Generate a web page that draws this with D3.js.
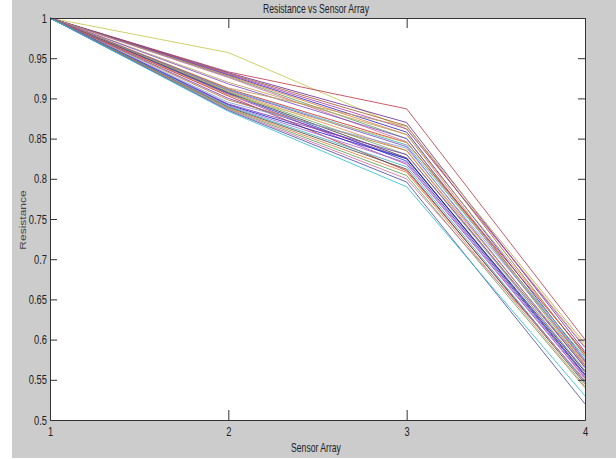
<!DOCTYPE html>
<html>
<head>
<meta charset="utf-8">
<script src="https://cdn.jsdelivr.net/npm/d3@7"></script>
<style>
  body { margin: 0; background: #fff; }
  text { font-family: "Liberation Sans", Arial, sans-serif; }
</style>
</head>
<body>
<script>

// sensor positions on the x axis
var sensors = [1, 2, 3, 4];

// resistance at each sensor, one entry per trace (sensor 1 is always 1)
var atSensor2 = [0.957, 0.933, 0.932, 0.931, 0.930, 0.929, 0.928, 0.927, 0.926, 0.920,
                 0.918, 0.913, 0.912, 0.911, 0.910, 0.909, 0.908, 0.907, 0.906, 0.905,
                 0.904, 0.903, 0.900, 0.898, 0.895, 0.893, 0.892, 0.891, 0.890, 0.889,
                 0.888, 0.887, 0.886, 0.885, 0.884];
var atSensor3 = [0.862, 0.887, 0.870, 0.866, 0.862, 0.858, 0.855, 0.850, 0.846, 0.855,
                 0.850, 0.865, 0.845, 0.842, 0.840, 0.835, 0.830, 0.826, 0.822, 0.818,
                 0.845, 0.810, 0.825, 0.835, 0.838, 0.830, 0.825, 0.820, 0.815, 0.812,
                 0.808, 0.804, 0.800, 0.796, 0.790];
var atSensor4 = [0.592, 0.600, 0.585, 0.580, 0.590, 0.575, 0.570, 0.568, 0.572, 0.582,
                 0.573, 0.595, 0.583, 0.578, 0.565, 0.560, 0.562, 0.557, 0.555, 0.552,
                 0.575, 0.548, 0.556, 0.568, 0.575, 0.566, 0.560, 0.553, 0.547, 0.545,
                 0.542, 0.540, 0.550, 0.520, 0.530];

var traceColors = ["#c8c850", "#c04050", "#7030a0", "#a06030", "#b040b0", "#3030c0", "#e08040",
                   "#60a060", "#d070a0", "#c0a060", "#8050c0", "#c0a060", "#d03030", "#40b0c0",
                   "#8050c0", "#e09050", "#70b070", "#404040", "#3040c0", "#b040b0", "#d0c060",
                   "#d03030", "#7040b0", "#c08040", "#80a0e0", "#8040b0", "#2020d0", "#a070d0",
                   "#40b0c0", "#505050", "#e08040", "#60a060", "#d070a0", "#5050b0", "#30c0d0"];

var yTicks = [0.5, 0.55, 0.6, 0.65, 0.7, 0.75, 0.8, 0.85, 0.9, 0.95, 1];

var margin = {top: 18, right: 31, bottom: 39, left: 50},
    width = 616 - margin.left - margin.right,
    height = 459 - margin.top - margin.bottom;

var x = d3.scaleLinear().domain([1, 4]).range([0, width]);
var y = d3.scaleLinear().domain([0.5, 1]).range([height, 0]);

var root = d3.select("body").append("svg")
    .attr("width", 616)
    .attr("height", 459);

// grey figure background
root.append("rect")
    .attr("x", 12).attr("y", 0)
    .attr("width", 604).attr("height", 458)
    .attr("fill", "#cccccc");

var svg = root.append("g")
    .attr("transform", "translate(" + margin.left + "," + margin.top + ")");

svg.append("rect")
    .attr("width", width).attr("height", height)
    .attr("fill", "#fff");

var traces = atSensor2.map(function(v, i) {
  return [1, v, atSensor3[i], atSensor4[i]];
});

var line = d3.line()
    .x(function(d, i) { return x(sensors[i]); })
    .y(function(d) { return y(d); });

svg.selectAll(".trace")
    .data(traces)
  .enter().append("path")
    .attr("class", "trace")
    .attr("d", line)
    .attr("fill", "none")
    .attr("stroke", function(d, i) { return traceColors[i % traceColors.length]; })
    .attr("stroke-opacity", 0.85)
    .attr("stroke-width", 1);

var fmt = function(d) { return String(+d.toFixed(2)); };

var xAxis = svg.append("g")
    .attr("transform", "translate(0," + height + ")")
    .call(d3.axisBottom(x).tickValues(sensors).tickFormat(d3.format("d"))
      .tickSizeInner(-10).tickSizeOuter(0).tickPadding(7));

var yAxis = svg.append("g")
    .call(d3.axisLeft(y).tickValues(yTicks).tickFormat(fmt)
      .tickSizeInner(-7).tickSizeOuter(0).tickPadding(3));

svg.append("g")
    .call(d3.axisTop(x).tickValues(sensors).tickFormat("")
      .tickSizeInner(-10).tickSizeOuter(0));

svg.append("g")
    .attr("transform", "translate(" + width + ",0)")
    .call(d3.axisRight(y).tickValues(yTicks).tickFormat("")
      .tickSizeInner(-7).tickSizeOuter(0));

svg.selectAll(".domain, .tick line").attr("stroke", "#333");

svg.selectAll(".tick text")
    .attr("font-size", "13px")
    .attr("font-family", "Liberation Sans, Arial, sans-serif")
    .attr("fill", "#222")
    .attr("transform", "scale(0.72,1)");

// y labels: keep the right edge near the axis after squeezing
yAxis.selectAll(".tick text").attr("x", -3 / 0.72);

root.append("text")
    .attr("transform", "translate(316,13) scale(0.72,1)")
    .style("text-anchor", "middle")
    .attr("font-size", "12px")
    .attr("fill", "#222")
    .text("Resistance vs Sensor Array");

root.append("text")
    .attr("transform", "translate(316,452) scale(0.72,1)")
    .style("text-anchor", "middle")
    .attr("font-size", "12px")
    .attr("fill", "#222")
    .text("Sensor Array");

root.append("text")
    .attr("transform", "translate(26,220) scale(0.75,1) rotate(-90)")
    .style("text-anchor", "middle")
    .attr("font-size", "12px")
    .attr("fill", "#444")
    .text("Resistance");

</script>
</body>
</html>
